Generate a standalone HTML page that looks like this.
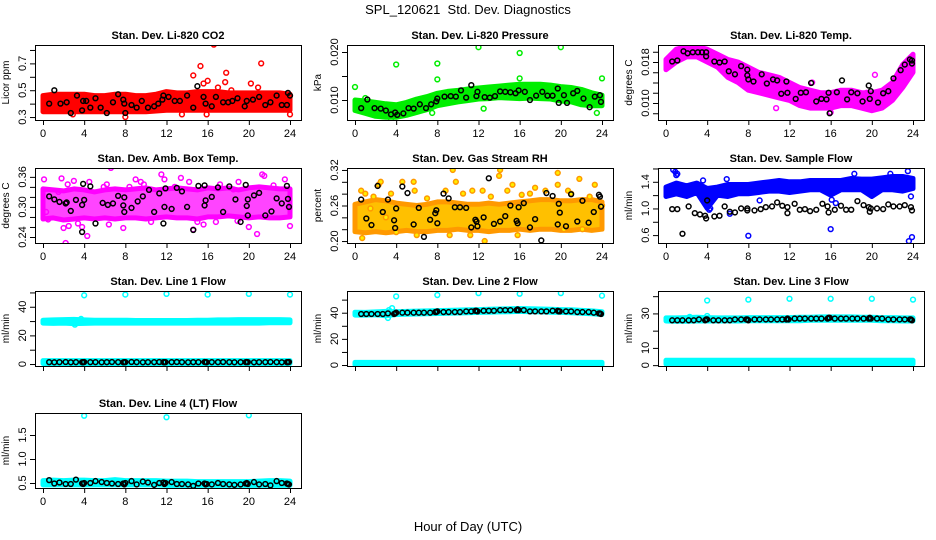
<!DOCTYPE html>
<html><head><meta charset="utf-8"><style>
body{margin:0;background:#fff}
svg{display:block;font-family:"Liberation Sans",Arial,sans-serif}
</style></head><body>
<svg id="chart" width="936" height="540" viewBox="0 0 936 540" xmlns="http://www.w3.org/2000/svg">
<rect width="936" height="540" fill="#fff"/>
<text x="468" y="14" font-size="13" text-anchor="middle">SPL_120621&#160; Std. Dev. Diagnostics</text>
<text x="468" y="531" font-size="13" text-anchor="middle">Hour of Day (UTC)</text>
</svg>
<script>
const H25=[0,1,2,3,4,5,6,7,8,9,10,11,12,13,14,15,16,17,18,19,20,21,22,23,24];
const blackT=[0.6,1.1,1.6,2.2,2.7,3.2,3.8,3.9,4.0,4.6,5.1,5.7,6.2,6.7,7.3,7.8,7.9,8.0,8.6,9.1,9.7,10.2,10.8,11.3,11.7,11.8,11.9,12.5,13.0,13.5,14.1,14.6,15.1,15.7,15.8,15.9,16.4,17.0,17.5,18.1,18.6,19.2,19.7,19.8,19.9,20.5,21.0,21.6,22.1,22.7,23.2,23.7,23.8,23.9];
const xTicks=[0,4,8,12,16,20,24];

// CO2
const co2Lo=[0.34,0.34,0.34,0.34,0.34,0.34,0.34,0.34,0.34,0.34,0.34,0.345,0.35,0.35,0.35,0.35,0.35,0.35,0.35,0.35,0.35,0.35,0.35,0.35,0.35];
const co2Hi=[0.46,0.47,0.47,0.47,0.47,0.46,0.46,0.47,0.47,0.46,0.46,0.47,0.49,0.48,0.48,0.49,0.49,0.49,0.48,0.48,0.48,0.48,0.48,0.48,0.47];
const co2OutT=[14.6,15.3,15.6,16.0,16.6,17.0,17.7,17.8,18.3,20.2,20.9,21.2,8.0,0.4,15.9,24,13.5,2.9];
const co2OutV=[0.61,0.68,0.55,0.57,0.84,0.52,0.56,0.63,0.50,0.55,0.52,0.70,0.30,0.35,0.32,0.32,0.32,0.32];
const co2BT=[0.6,1.1,1.7,2.3,2.7,3.3,3.8,3.9,4.2,4.6,5.1,5.6,6.2,6.8,7.3,7.8,7.9,8.0,8.6,9.1,9.6,10.2,10.8,11.2,11.6,11.7,12.2,12.8,13.3,14.0,14.6,15.0,15.6,15.8,16.4,16.8,17.5,18.0,18.4,18.9,19.6,19.8,20.4,21.0,21.6,22.1,22.7,23.2,23.7,23.8,24];
const co2BV=[0.40,0.50,0.40,0.41,0.33,0.46,0.35,0.42,0.42,0.37,0.44,0.37,0.33,0.41,0.47,0.43,0.40,0.33,0.39,0.37,0.42,0.37,0.38,0.40,0.43,0.46,0.45,0.42,0.42,0.46,0.37,0.53,0.45,0.40,0.38,0.45,0.41,0.41,0.42,0.44,0.38,0.42,0.43,0.45,0.39,0.41,0.46,0.39,0.39,0.48,0.46];

// Pressure
const prLo=[0.0078,0.0072,0.0066,0.0064,0.0064,0.0068,0.0074,0.0080,0.0088,0.0092,0.0096,0.0099,0.0102,0.0103,0.0105,0.0104,0.0103,0.0104,0.0103,0.0102,0.0098,0.0096,0.0090,0.0088,0.0088];
const prHi=[0.0100,0.0098,0.0095,0.0092,0.0090,0.0095,0.0102,0.0107,0.0114,0.0118,0.0120,0.0123,0.0125,0.0127,0.0129,0.0131,0.0133,0.0133,0.0133,0.0131,0.0128,0.0126,0.0122,0.0115,0.0110];
const prOutT=[0,4,8,8,12,16,16,20,24,12.5,3.5,7.5,23.5,1.0];
const prOutV=[0.0127,0.0174,0.0176,0.0143,0.0210,0.0198,0.0145,0.0210,0.0145,0.0082,0.0058,0.0073,0.0073,0.0104];
const prBT=[0.6,1.2,1.9,2.5,3.0,3.5,3.9,4.1,4.7,5.2,5.7,6.3,6.9,7.4,7.9,8.0,8.7,9.3,9.8,10.3,10.8,11.3,11.8,11.9,12.6,13.1,13.6,14.1,14.6,15.1,15.6,15.9,16.5,17.0,17.6,18.2,18.7,19.2,19.7,19.8,20.3,20.6,21.2,21.6,22.2,22.8,23.3,23.8,23.9];
const prBV=[0.0083,0.0101,0.0083,0.0082,0.0078,0.0070,0.0074,0.0069,0.0072,0.0083,0.0082,0.0091,0.0083,0.0091,0.0097,0.0103,0.0107,0.0108,0.0107,0.0120,0.0105,0.0131,0.0108,0.0117,0.0106,0.0105,0.0108,0.0118,0.0117,0.0116,0.0114,0.0120,0.0117,0.0100,0.0109,0.0117,0.0109,0.0109,0.0124,0.0094,0.0110,0.0094,0.0114,0.0119,0.0103,0.0085,0.0107,0.0110,0.0096];

// Temp
const tpLo=[0.0165,0.0180,0.0190,0.0190,0.0180,0.0170,0.0150,0.0140,0.0125,0.0120,0.0115,0.0110,0.0105,0.0095,0.0090,0.0090,0.0090,0.0095,0.0095,0.0090,0.0085,0.0090,0.0105,0.0130,0.0160];
const tpHi=[0.0185,0.0205,0.0210,0.0210,0.0205,0.0195,0.0185,0.0180,0.0170,0.0160,0.0155,0.0150,0.0140,0.0130,0.0125,0.0120,0.0120,0.0125,0.0125,0.0120,0.0120,0.0125,0.0140,0.0175,0.0195];
const tpOutT=[10.7,7.8,16.0,14.2,20.3,19.5];
const tpOutV=[0.0090,0.0138,0.0082,0.0140,0.0155,0.0120];
const tpBT=[0.6,1.1,1.7,2.1,2.6,3.1,3.5,3.9,3.9,4.7,5.2,5.7,6.1,6.7,7.3,7.9,7.9,8.0,8.5,9.3,9.8,10.4,10.8,11.2,11.7,11.8,12.6,13.1,13.6,14.1,14.6,15.1,15.6,15.8,15.9,16.6,17.1,17.6,18.0,18.6,19.1,19.7,19.8,19.9,20.6,21.1,21.6,22.1,22.8,23.2,23.7,23.9,23.9];
const tpBV=[0.0181,0.0183,0.0201,0.0197,0.0199,0.0199,0.0199,0.0199,0.0191,0.0181,0.0179,0.0181,0.0162,0.0156,0.0172,0.0154,0.0165,0.0146,0.0142,0.0156,0.0138,0.0146,0.0144,0.0118,0.0142,0.0120,0.0108,0.0120,0.0121,0.0139,0.0103,0.0108,0.0107,0.0120,0.0080,0.0121,0.0144,0.0107,0.0121,0.0119,0.0103,0.0134,0.0108,0.0123,0.0101,0.0119,0.0123,0.0148,0.0164,0.0175,0.0185,0.0177,0.0183];

// Amb box temp
const abLo=[0.276,0.278,0.274,0.276,0.278,0.276,0.278,0.276,0.278,0.278,0.276,0.278,0.280,0.278,0.278,0.276,0.280,0.280,0.282,0.280,0.278,0.280,0.278,0.278,0.280];
const abHi=[0.336,0.334,0.332,0.336,0.334,0.330,0.334,0.336,0.334,0.336,0.338,0.334,0.336,0.338,0.336,0.334,0.338,0.336,0.338,0.334,0.338,0.340,0.338,0.336,0.336];
const abOutT=[0.1,0.5,1.8,2.0,2.2,2.5,3.0,3.8,4.3,4.5,6.2,6.4,6.6,7.8,9.0,9.5,11.5,11.8,13.4,14.6,15.0,15.6,16.8,19.0,20.0,20.8,21.3,21.5,23.5,24.0,3.4,0.3,1.5,5.9,9.8,12.8,17.2,18.5,22.4,2.4,8.4,10.5,14.2,18.9];
const abOutV=[0.355,0.275,0.357,0.258,0.228,0.262,0.352,0.260,0.242,0.350,0.345,0.265,0.378,0.258,0.355,0.350,0.365,0.355,0.358,0.255,0.270,0.265,0.270,0.350,0.260,0.246,0.365,0.362,0.355,0.262,0.267,0.290,0.330,0.340,0.345,0.340,0.345,0.335,0.343,0.345,0.340,0.270,0.350,0.272];
const abBT=[0.6,1.1,1.6,2.2,2.3,2.7,3.2,3.8,3.8,3.9,4.0,4.6,5.1,5.8,6.3,6.8,7.3,7.8,7.9,7.9,8.6,9.2,9.7,10.3,10.8,11.3,11.7,11.8,11.9,12.5,13.0,13.5,14.0,14.6,15.1,15.7,15.7,15.8,16.4,17.0,17.5,18.1,18.7,19.2,19.7,19.8,19.9,19.9,20.5,21.0,21.6,22.2,22.7,23.2,23.7,23.8,23.9];
const abBV=[0.321,0.315,0.310,0.307,0.309,0.292,0.314,0.304,0.250,0.346,0.314,0.341,0.267,0.308,0.304,0.307,0.322,0.303,0.319,0.290,0.298,0.311,0.321,0.334,0.290,0.327,0.267,0.300,0.337,0.296,0.338,0.331,0.300,0.254,0.342,0.343,0.303,0.313,0.320,0.339,0.290,0.341,0.315,0.270,0.344,0.302,0.315,0.283,0.323,0.328,0.283,0.291,0.317,0.307,0.342,0.316,0.300];

// RH
const rhLo=[0.216,0.214,0.216,0.214,0.216,0.218,0.216,0.216,0.218,0.218,0.220,0.218,0.218,0.216,0.218,0.218,0.220,0.218,0.220,0.220,0.218,0.218,0.220,0.218,0.220];
const rhHi=[0.262,0.266,0.270,0.268,0.264,0.262,0.260,0.262,0.266,0.266,0.264,0.262,0.262,0.264,0.262,0.264,0.266,0.268,0.270,0.270,0.268,0.268,0.270,0.270,0.266];
const rhOutT=[0.6,1.0,1.5,2.3,2.5,3.5,4.6,5.7,5.8,8.8,9.5,9.8,11.4,12.6,12.4,14.1,14.0,14.8,15.3,17.0,17.5,19.7,19.7,20.7,21.8,23.3,0.7,4.0,9.2,11.2,6.0,15.8,20.3,22.1,3.0,18.5,1.8,7.0,10.5,13.2,16.2,21.0,22.8,24.0];
const rhOutV=[0.285,0.280,0.255,0.295,0.300,0.280,0.300,0.300,0.285,0.285,0.320,0.300,0.285,0.200,0.285,0.320,0.310,0.285,0.295,0.280,0.290,0.315,0.295,0.285,0.305,0.295,0.205,0.215,0.210,0.210,0.210,0.210,0.220,0.220,0.240,0.285,0.275,0.272,0.280,0.275,0.278,0.280,0.275,0.260];
const rhBV=[0.270,0.238,0.227,0.293,0.249,0.270,0.235,0.222,0.255,0.292,0.281,0.228,0.256,0.207,0.236,0.247,0.252,0.230,0.280,0.272,0.257,0.257,0.256,0.223,0.236,0.233,0.225,0.240,0.306,0.229,0.233,0.242,0.260,0.234,0.230,0.257,0.264,0.223,0.237,0.201,0.281,0.276,0.228,0.263,0.248,0.225,0.279,0.233,0.268,0.231,0.249,0.278,0.275,0.258];

// Sample flow
const sfLo=[1.18,1.22,1.18,1.24,1.00,1.20,1.18,1.22,1.22,1.24,1.26,1.26,1.24,1.26,1.28,1.28,1.20,1.28,1.28,1.28,1.18,1.28,1.28,1.26,1.30];
const sfHi=[1.32,1.38,1.34,1.38,1.30,1.32,1.36,1.36,1.36,1.38,1.40,1.42,1.40,1.40,1.42,1.42,1.42,1.42,1.45,1.44,1.44,1.46,1.48,1.48,1.45];
const sfOutT=[0.7,0.9,1.0,1.1,5.9,6.2,8.0,9.1,16.0,16.1,16.5,23.6,23.9,23.8,23.5,18.3,21.8,4.3,4.2,3.6];
const sfOutV=[1.58,1.55,1.50,1.52,1.44,0.92,0.59,1.12,0.69,1.13,1.08,0.51,0.57,1.18,1.56,1.52,1.52,1.00,0.98,1.42];
const sfBT=[0.6,1.1,1.6,2.2,2.8,3.3,3.8,3.9,4.0,4.7,5.2,5.7,6.2,6.7,7.3,7.9,7.9,8.6,9.2,9.7,10.3,10.8,11.3,11.8,11.8,12.5,13.0,13.5,14.0,14.6,15.2,15.7,15.8,16.4,17.0,17.5,18.0,18.6,19.2,19.7,19.8,19.9,20.5,21.1,21.6,22.1,22.7,23.2,23.8,23.9];
const sfBV=[0.99,0.99,0.62,1.03,0.93,0.91,0.89,0.85,1.12,0.88,0.89,1.03,0.95,0.94,1.00,0.97,1.00,0.97,0.99,1.02,1.03,1.09,1.04,1.02,0.93,1.07,0.98,0.99,0.96,0.98,1.07,1.03,0.94,0.98,1.04,0.98,0.98,1.11,1.05,1.02,0.95,1.00,1.00,0.99,1.06,1.03,1.03,1.05,1.02,0.97];

// Line 1
const l1Lo=[28.6,28.4,28.6,28.2,28.4,28.6,28.6,28.6,28.6,28.6,28.6,28.6,28.6,28.6,28.6,28.6,28.6,28.6,28.6,28.6,28.6,28.6,28.8,28.8,28.8];
const l1Hi=[30.6,30.8,31.0,31.2,30.8,30.6,30.6,30.6,30.6,30.4,30.4,30.4,30.4,30.4,30.4,30.6,30.6,30.8,30.8,31.0,31.0,31.0,31.0,31.0,30.8];
const l1LowLo=[0.4,0.4,0.4,0.4,0.4,0.4,0.4,0.4,0.4,0.4,0.4,0.4,0.4,0.4,0.4,0.4,0.4,0.4,0.4,0.4,0.4,0.4,0.4,0.4,0.4];
const l1LowHi=[2.4,2.4,2.4,2.4,2.4,2.4,2.4,2.4,2.4,2.4,2.4,2.4,2.4,2.4,2.4,2.4,2.4,2.4,2.4,2.4,2.4,2.4,2.4,2.4,2.4];
const l1OutT=[4,8,12,16,20,24,3.7,3.1];
const l1OutV=[48,48.5,49,48.5,49,48.5,31.5,27.5];
const l1BV=[1.3,1.2,1.3,1.4,1.2,1.3,1.3,1.2,1.4,1.3,1.3,1.2,1.3,1.4,1.3,1.2,1.3,1.3,1.4,1.3,1.2,1.3,1.3,1.4,1.3,1.2,1.3,1.3,1.4,1.3,1.2,1.3,1.3,1.4,1.3,1.2,1.3,1.3,1.4,1.3,1.2,1.3,1.3,1.4,1.3,1.2,1.3,1.3,1.4,1.3,1.2,1.3,1.3,1.4];

// Line 2
const l2Lo=[38.2,38.2,38.4,37.6,38.6,38.8,39.0,39.2,39.4,39.6,39.8,40.0,40.2,40.4,40.6,40.8,41.0,40.8,40.6,40.4,40.2,40.0,39.6,39.2,38.6];
const l2Hi=[40.4,40.2,40.6,41.0,40.8,41.0,41.2,41.4,41.6,41.8,42.0,42.2,42.4,42.6,42.8,43.0,43.2,43.0,42.8,42.6,42.4,42.2,41.8,41.4,40.8];
const l2LowLo=[0.2,0.2,0.2,0.2,0.2,0.2,0.2,0.2,0.2,0.2,0.2,0.2,0.2,0.2,0.2,0.2,0.2,0.2,0.2,0.2,0.2,0.2,0.2,0.2,0.2];
const l2LowHi=[2.0,2.0,2.0,2.0,2.0,2.0,2.0,2.0,2.0,2.0,2.0,2.0,2.0,2.0,2.0,2.0,2.0,2.0,2.0,2.0,2.0,2.0,2.0,2.0,2.0];
const l2OutT=[4,8,12,16,20,24,3.3,3.6,3.2];
const l2OutV=[52.5,53.5,55,54.5,55,53,42,43.5,36];
const l2BV=[39,39,39,39,39,39.5,39,39.5,40,40,40,40,40,40,40,40.5,40.5,41,40.5,40.5,40.5,40.5,41,41,41.5,41.5,41,41.5,41.5,41.5,42,42,42,42,42.5,42,42,41,41,41,41,41.5,41.5,41,41,41,41,40.5,40.5,40.5,40,39.5,39.5,39];

// Line 3
const l3Lo=[25.6,25.4,25.4,25.6,25.6,25.6,25.6,25.6,25.8,25.8,25.8,25.8,25.8,25.8,26.0,26.0,26.0,26.0,26.0,26.0,26.0,25.8,25.8,25.6,25.6];
const l3Hi=[27.4,27.4,27.6,27.8,27.6,27.4,27.4,27.4,27.6,27.6,27.6,27.6,27.6,27.8,27.8,28.0,28.0,28.0,28.0,27.8,27.8,27.6,27.6,27.4,27.4];
const l3LowLo=[0.6,0.6,0.6,0.6,0.6,0.6,0.6,0.6,0.6,0.6,0.6,0.6,0.6,0.6,0.6,0.6,0.6,0.6,0.6,0.6,0.6,0.6,0.6,0.6,0.6];
const l3LowHi=[2.8,2.8,2.8,2.8,2.8,2.8,2.8,2.8,2.8,2.8,2.8,2.8,2.8,2.8,2.8,2.8,2.8,2.8,2.8,2.8,2.8,2.8,2.8,2.8,2.8];
const l3OutT=[4,8,12,16,20,24,2.3,4.0];
const l3OutV=[37.5,38,38.5,38.5,38.5,38,28,28.5];
const l3BV=[26,26,26,26,26,26.5,26,26.5,26.5,26,26,26,26,26.5,26.5,26.5,26.5,26,26.5,26.5,26.5,26.5,26.5,26.5,26.5,27,26.5,27,27,27,27,27,27,27,27.5,27.5,27,27,27,27,27,27,27,27.5,27,27,27,26.5,26.5,26.5,26.5,26.5,26.5,26];

// Line 4
const l4Lo=[0.46,0.46,0.46,0.46,0.46,0.46,0.46,0.46,0.46,0.46,0.46,0.46,0.45,0.45,0.45,0.45,0.45,0.45,0.45,0.45,0.45,0.45,0.45,0.45,0.45];
const l4Hi=[0.55,0.56,0.55,0.56,0.56,0.55,0.55,0.57,0.55,0.55,0.55,0.55,0.54,0.54,0.54,0.53,0.53,0.53,0.53,0.53,0.53,0.54,0.55,0.55,0.54];
const l4OutT=[4,12,20];
const l4OutV=[1.9,1.87,1.91];
const l4BV=[0.56,0.49,0.51,0.48,0.48,0.57,0.49,0.48,0.50,0.50,0.54,0.52,0.50,0.49,0.48,0.49,0.47,0.50,0.54,0.47,0.53,0.51,0.46,0.50,0.51,0.48,0.50,0.52,0.48,0.48,0.47,0.44,0.49,0.49,0.47,0.48,0.47,0.50,0.48,0.47,0.46,0.47,0.49,0.50,0.48,0.52,0.47,0.48,0.45,0.54,0.50,0.49,0.48,0.47];

const panels=[
 {id:'co2',title:'Stan. Dev. Li-820 CO2',ylab:'Licor ppm',c:0,r:0,dom:[0.278,0.837],ticks:[0.3,0.4,0.5,0.6,0.7,0.8],labs:[0.3,0.5,0.7],dec:1,col:'#ff0000',fill:'#ff0000',bands:[[co2Lo,co2Hi]],out:[co2OutT,co2OutV],blk:[co2BT,co2BV],xl:true},
 {id:'pressure',title:'Stan. Dev. Li-820 Pressure',ylab:'kPa',c:1,r:0,dom:[0.00583,0.02146],ticks:[0.010,0.015,0.020],labs:[0.010,0.020],dec:3,col:'#00ee00',fill:'#00ee00',bands:[[prLo,prHi]],out:[prOutT,prOutV],blk:[prBT,prBV],xl:true},
 {id:'temp',title:'Stan. Dev. Li-820 Temp.',ylab:'degrees C',c:2,r:0,dom:[0.00668,0.02132],ticks:[0.008,0.010,0.012,0.014,0.016,0.018,0.020],labs:[0.010,0.018],dec:3,col:'#ff00ff',fill:'#ff00ff',bands:[[tpLo,tpHi]],out:[tpOutT,tpOutV],blk:[tpBT,tpBV],xl:true},
 {id:'amb-box-temp',title:'Stan. Dev. Amb. Box Temp.',ylab:'degrees C',c:0,r:1,dom:[0.228,0.3777],ticks:[0.24,0.26,0.28,0.30,0.32,0.34,0.36],labs:[0.24,0.30,0.36],dec:2,col:'#ff00ff',fill:'#ff44ff',bands:[[abLo,abHi]],out:[abOutT,abOutV],blk:[abBT,abBV],xl:true},
 {id:'gas-rh',title:'Stan. Dev. Gas Stream RH',ylab:'percent',c:1,r:1,dom:[0.1967,0.3233],ticks:[0.20,0.22,0.24,0.26,0.28,0.30,0.32],labs:[0.20,0.26,0.32],dec:2,col:'#ff9900',fill:'#ffc000',ofill:'#ffee00',bands:[[rhLo,rhHi]],out:[rhOutT,rhOutV],blk:[blackT,rhBV],xl:true},
 {id:'sample-flow',title:'Stan. Dev. Sample Flow',ylab:'ml/min',c:2,r:1,dom:[0.4815,1.607],ticks:[0.6,0.8,1.0,1.2,1.4,1.6],labs:[0.6,1.0,1.4],dec:1,col:'#0000ff',fill:'#0000ff',bands:[[sfLo,sfHi]],out:[sfOutT,sfOutV],blk:[sfBT,sfBV],xl:true},
 {id:'line1-flow',title:'Stan. Dev. Line 1 Flow',ylab:'ml/min',c:0,r:2,dom:[-1.38,51],ticks:[0,10,20,30,40,50],labs:[0,20,40],dec:0,col:'#00ffff',fill:'#00ffff',bands:[[l1Lo,l1Hi],[l1LowLo,l1LowHi]],out:[l1OutT,l1OutV],blk:[blackT,l1BV],xl:false},
 {id:'line2-flow',title:'Stan. Dev. Line 2 Flow',ylab:'ml/min',c:1,r:2,dom:[-0.75,56.6],ticks:[0,10,20,30,40,50],labs:[0,20,40],dec:0,col:'#00ffff',fill:'#00ffff',bands:[[l2Lo,l2Hi],[l2LowLo,l2LowHi]],out:[l2OutT,l2OutV],blk:[blackT,l2BV],xl:false},
 {id:'line3-flow',title:'Stan. Dev. Line 3 Flow',ylab:'ml/min',c:2,r:2,dom:[-0.5,43],ticks:[0,10,20,30,40],labs:[0,10,30],dec:0,col:'#00ffff',fill:'#00ffff',bands:[[l3Lo,l3Hi],[l3LowLo,l3LowHi]],out:[l3OutT,l3OutV],blk:[blackT,l3BV],xl:false},
 {id:'line4-flow',title:'Stan. Dev. Line 4 (LT) Flow',ylab:'ml/min',c:0,r:3,dom:[0.396,1.958],ticks:[0.5,1.0,1.5],labs:[0.5,1.0,1.5],dec:1,col:'#00ffff',fill:'#00ffff',bands:[[l4Lo,l4Hi]],out:[l4OutT,l4OutV],blk:[blackT,l4BV],xl:true}
];

const NS='http://www.w3.org/2000/svg';
const svg=document.getElementById('chart');
const colX=[35,347,658], rowY=[45,168,291,413], W=266, Hh=75;
function mk(tag,attrs,parent){const e=document.createElementNS(NS,tag);for(const k in attrs)e.setAttribute(k,attrs[k]);parent.appendChild(e);return e;}

panels.forEach(p=>{
  const x0=colX[p.c], y0=rowY[p.r];
  const g=mk('g',{},svg);
  
  
  const sx=t=>x0+8+t*(247/24);
  const sy=v=>y0+Hh-(v-p.dom[0])/(p.dom[1]-p.dom[0])*Hh;
  const clipId='clip-'+p.id;
  const cp=mk('clipPath',{id:clipId},g);
  mk('rect',{x:x0,y:y0,width:W,height:Hh},cp);
  const plot=mk('g',{'clip-path':'url(#'+clipId+')'},g);
  
  
  p.bands.forEach(b=>{
    const lo=b[0],hi=b[1];
    let d='M'+H25.map((t,i)=>sx(t).toFixed(1)+','+sy(hi[i]).toFixed(1)).join(' L');
    for(let i=H25.length-1;i>=0;i--) d+=' L'+sx(H25[i]).toFixed(1)+','+sy(lo[i]).toFixed(1);
    d+='Z';
    const band=mk('path',{d:d,fill:p.fill,stroke:p.col,'stroke-width':5,'stroke-linejoin':'round'},plot);
    
    
  });
  p.out[0].forEach((t,i)=>{
    const c=mk('circle',{cx:sx(t),cy:sy(p.out[1][i]),r:2.4,fill:p.ofill||'none',stroke:p.col,'stroke-width':1.5},plot);
    
    
  });
  p.blk[0].forEach((t,i)=>{
    const c=mk('circle',{cx:sx(t),cy:sy(p.blk[1][i]),r:2.4,fill:'none',stroke:'#000','stroke-width':1.5},plot);
    
    
  });
  const box=mk('rect',{x:x0+0.5,y:y0+0.5,width:W,height:Hh,fill:'none',stroke:'#000','stroke-width':1},g);
  
  
  const tt=mk('text',{x:x0+W/2,y:y0-6,'font-size':11,'font-weight':'bold','text-anchor':'middle'},g);
  tt.textContent=p.title;
  
  
  const yl=mk('text',{x:0,y:0,'font-size':10,'text-anchor':'middle',transform:'translate('+(x0-26)+','+(y0+Hh/2)+') rotate(-90)'},g);
  yl.textContent=p.ylab;
  
  
  p.ticks.forEach(v=>{
    const y=sy(v); if(y<y0-1||y>y0+Hh+1) return;
    const tk=mk('line',{x1:x0-5,x2:x0,y1:y+0.5,y2:y+0.5,stroke:'#000','stroke-width':1},g);
    
    
  });
  p.labs.forEach(v=>{
    const y=sy(v);
    const tl=mk('text',{x:0,y:0,'font-size':11,'text-anchor':'middle',transform:'translate('+(x0-9)+','+y+') rotate(-90)'},g);
    tl.textContent=v.toFixed(p.dec);
    
    
  });
  xTicks.forEach(t=>{
    const x=sx(t);
    const tk=mk('line',{x1:x+0.5,x2:x+0.5,y1:y0+Hh,y2:y0+Hh+5,stroke:'#000','stroke-width':1},g);
    
    
    if(p.xl){
      const tl=mk('text',{x:x,y:y0+Hh+17,'font-size':11,'text-anchor':'middle'},g);
      tl.textContent=String(t);
      
      
    }
  });
});
</script>
</body></html>
